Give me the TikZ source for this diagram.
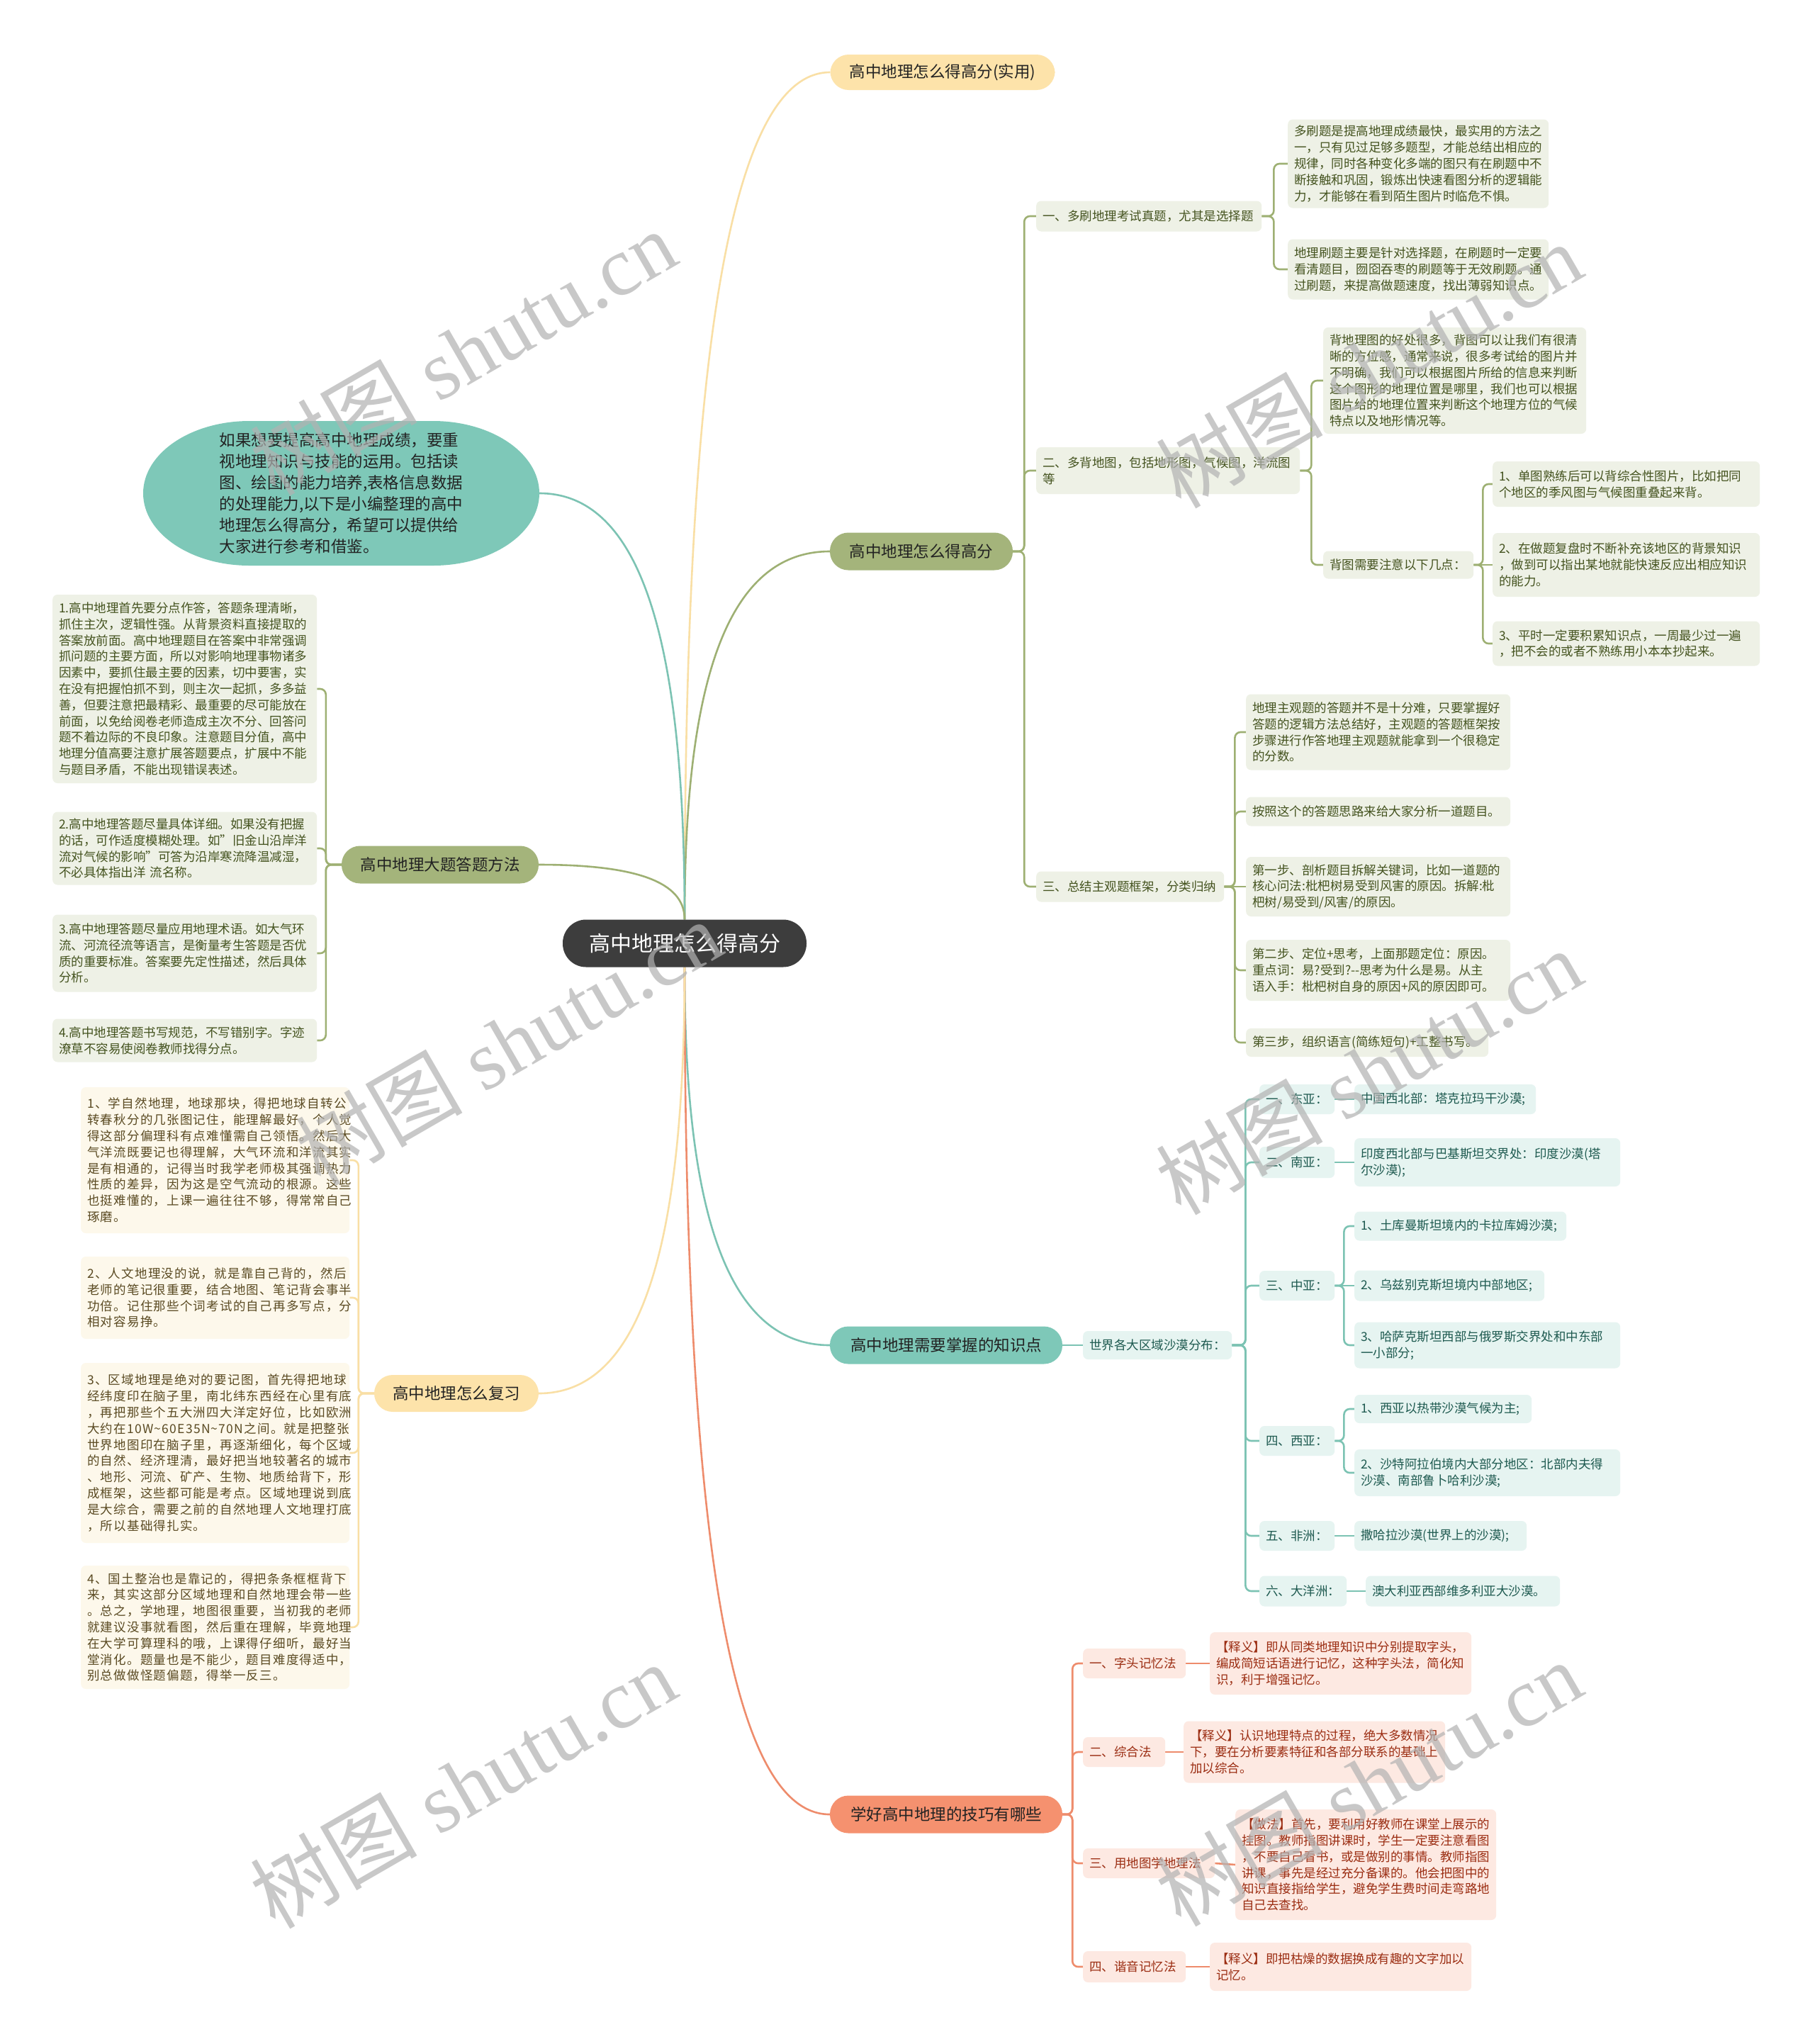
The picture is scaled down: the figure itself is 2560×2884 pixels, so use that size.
\documentclass[tikz,border=0pt]{standalone}
\usepackage{fontspec}
\setmainfont{Noto Sans CJK SC}
\newfontfamily\wmlatin{Liberation Serif}
\newfontfamily\spacedcjk[LetterSpace=7]{Noto Sans CJK SC}
\pgfdeclarelayer{bglayer}
\pgfdeclarelayer{linelayer}
\pgfdeclarelayer{wmlayer}
\pgfsetlayers{bglayer,linelayer,main,wmlayer}
\definecolor{rootc}{HTML}{3D3D3D}
\definecolor{gpill}{HTML}{A4B47B}
\definecolor{gline}{HTML}{9EB073}
\definecolor{gfill}{HTML}{EEF1E6}
\definecolor{gtext}{HTML}{44531F}
\definecolor{ypill}{HTML}{FDE3AA}
\definecolor{yline}{HTML}{F9DFA5}
\definecolor{yfill}{HTML}{FDF8EB}
\definecolor{ytext}{HTML}{5A4A22}
\definecolor{tpill}{HTML}{7EC8B8}
\definecolor{tline}{HTML}{7CC3B3}
\definecolor{tfill}{HTML}{E6F4F1}
\definecolor{ttext}{HTML}{1E5A50}
\definecolor{opill}{HTML}{F5916F}
\definecolor{oline}{HTML}{EE8C6C}
\definecolor{ofill}{HTML}{FDE9E2}
\definecolor{otext}{HTML}{9B2D12}
\definecolor{pilltext}{HTML}{222222}
\newcommand\mmbox[7]{\node[#2, text width=#5pt, minimum height=#6pt] (#1) at (#3,#4) {#7};}
\begin{document}
\begin{tikzpicture}[x=1pt,y=-1pt,
  conn/.style={line width=2.6pt, rounded corners=8pt},
  gconn/.style={conn, draw=gline},
  yconn/.style={conn, draw=yline},
  tconn/.style={conn, draw=tline},
  oconn/.style={conn, draw=oline},
  elbow/.style={to path={-- ++(#1,0) |- (\tikztotarget)}},
  rootbox/.style={fill=rootc, text=white, rounded corners=33pt, minimum width=344pt, minimum height=67pt, inner sep=0pt, font=\fontsize{30pt}{36pt}\selectfont},
  pillbox/.style={rounded corners=26pt, inner sep=0pt, text=pilltext, font=\fontsize{22.5pt}{27pt}\selectfont},
  leafbox/.style={rounded corners=7pt, anchor=west, align=left, inner xsep=9pt, inner ysep=3pt, font=\fontsize{17.5pt}{22.8pt}\selectfont},
  gleaf/.style={leafbox, fill=gfill, text=gtext},
  yleaf/.style={leafbox, fill=yfill, text=ytext, font=\spacedcjk\fontsize{17.5pt}{22.8pt}\selectfont},
  tleaf/.style={leafbox, fill=tfill, text=ttext},
  oleaf/.style={leafbox, fill=ofill, text=otext},
  wm/.style={rotate=30, text=black!30, text opacity=0.7, inner sep=0pt, font=\fontsize{118pt}{118pt}\selectfont}
]
\useasboundingbox (0,0) rectangle (2560,2884);
\begin{pgfonlayer}{bglayer}
\fill[white] (0,0) rectangle (2560,2884);
\end{pgfonlayer}

% root
\node[rootbox] (root) at (966,1331) {高中地理怎么得高分};

% main branches
\node[pillbox, fill=ypill, minimum width=317pt, minimum height=50pt] (Y1) at (1330,102) {高中地理怎么得高分(实用)};
\node[pillbox, fill=gpill, minimum width=258pt, minimum height=53pt] (G) at (1300,778) {高中地理怎么得高分};
\node[pillbox, fill=gpill, minimum width=278pt, minimum height=53pt] (L) at (621,1220) {高中地理大题答题方法};
\node[pillbox, fill=ypill, minimum width=232pt, minimum height=52pt] (R) at (644,1966) {高中地理怎么复习};
\node[pillbox, fill=tpill, minimum width=328pt, minimum height=53pt] (T) at (1335,1898) {高中地理需要掌握的知识点};
\node[pillbox, fill=opill, minimum width=328pt, minimum height=53pt] (O) at (1335,2560) {学好高中地理的技巧有哪些};

% intro bubble
\fill[tpill] (352,594) -- (611,594) arc[start angle=90, end angle=-90, x radius=150pt, y radius=102pt] -- (352,798) arc[start angle=270, end angle=90, x radius=150pt, y radius=102pt] -- cycle;
\node[align=left, text=pilltext, minimum width=559pt, minimum height=204pt, inner sep=0pt, font=\fontsize{22.5pt}{30pt}\selectfont] (E) at (481.5,696) {如果想要提高高中地理成绩，要重\\视地理知识与技能的运用。包括读\\图、绘图的能力培养,表格信息数据\\的处理能力,以下是小编整理的高中\\地理怎么得高分，希望可以提供给\\大家进行参考和借鉴。};

% green group
\mmbox{G1}{gleaf}{1462}{305}{300}{43}{一、多刷地理考试真题，尤其是选择题}
\mmbox{G1a}{gleaf}{1817}{231}{350}{125}{多刷题是提高地理成绩最快，最实用的方法之\\一，只有见过足够多题型，才能总结出相应的\\规律，同时各种变化多端的图只有在刷题中不\\断接触和巩固，锻炼出快速看图分析的逻辑能\\力，才能够在看到陌生图片时临危不惧。}
\mmbox{G1b}{gleaf}{1817}{380}{350}{85}{地理刷题主要是针对选择题，在刷题时一定要\\看清题目，囫囵吞枣的刷题等于无效刷题。通\\过刷题，来提高做题速度，找出薄弱知识点。}
\mmbox{G2}{gleaf}{1462}{664}{354}{66}{二、多背地图，包括地形图，气候图，洋流图\\等}
\mmbox{G2a}{gleaf}{1867}{537}{353}{150}{背地理图的好处很多，背图可以让我们有很清\\晰的方位感，通常来说，很多考试给的图片并\\不明确，我们可以根据图片所给的信息来判断\\这个图形的地理位置是哪里，我们也可以根据\\图片给的地理位置来判断这个地理方位的气候\\特点以及地形情况等。}
\mmbox{G2b}{gleaf}{1867}{797}{194}{39}{背图需要注意以下几点：}
\mmbox{G2ba}{gleaf}{2106}{683}{359}{64}{1、单图熟练后可以背综合性图片，比如把同\\个地区的季风图与气候图重叠起来背。}
\mmbox{G2bb}{gleaf}{2106}{797}{359}{90}{2、在做题复盘时不断补充该地区的背景知识\\，做到可以指出某地就能快速反应出相应知识\\的能力。}
\mmbox{G2bc}{gleaf}{2106}{908}{359}{63}{3、平时一定要积累知识点，一周最少过一遍\\，把不会的或者不熟练用小本本抄起来。}
\mmbox{G3}{gleaf}{1462}{1251}{247}{43}{三、总结主观题框架，分类归纳}
\mmbox{G3a}{gleaf}{1758}{1033}{355}{107}{地理主观题的答题并不是十分难，只要掌握好\\答题的逻辑方法总结好，主观题的答题框架按\\步骤进行作答地理主观题就能拿到一个很稳定\\的分数。}
\mmbox{G3b}{gleaf}{1758}{1145}{355}{41}{按照这个的答题思路来给大家分析一道题目。}
\mmbox{G3c}{gleaf}{1758}{1251}{355}{84}{第一步、剖析题目拆解关键词，比如一道题的\\核心问法:枇杷树易受到风害的原因。拆解:枇\\杷树/易受到/风害/的原因。}
\mmbox{G3d}{gleaf}{1758}{1369}{355}{86}{第二步、定位+思考，上面那题定位：原因。\\重点词：易?受到?-{}-思考为什么是易。从主\\语入手：枇杷树自身的原因+风的原因即可。}
\mmbox{G3e}{gleaf}{1758}{1471}{324}{40}{第三步，组织语言(简练短句)+工整书写。}

% left green group
\mmbox{L1}{gleaf}{74}{972}{355}{266}{1.高中地理首先要分点作答，答题条理清晰，\\抓住主次，逻辑性强。从背景资料直接提取的\\答案放前面。高中地理题目在答案中非常强调\\抓问题的主要方面，所以对影响地理事物诸多\\因素中，要抓住最主要的因素，切中要害，实\\在没有把握怕抓不到，则主次一起抓，多多益\\善，但要注意把最精彩、最重要的尽可能放在\\前面，以免给阅卷老师造成主次不分、回答问\\题不着边际的不良印象。注意题目分值，高中\\地理分值高要注意扩展答题要点，扩展中不能\\与题目矛盾，不能出现错误表述。}
\mmbox{L2}{gleaf}{74}{1197}{355}{103}{2.高中地理答题尽量具体详细。如果没有把握\\的话，可作适度模糊处理。如"旧金山沿岸洋\\流对气候的影响"可答为沿岸寒流降温减湿，\\不必具体指出洋 流名称。}
\mmbox{L3}{gleaf}{74}{1345}{355}{109}{3.高中地理答题尽量应用地理术语。如大气环\\流、河流径流等语言，是衡量考生答题是否优\\质的重要标准。答案要先定性描述，然后具体\\分析。}
\mmbox{L4}{gleaf}{74}{1468}{355}{61}{4.高中地理答题书写规范，不写错别字。字迹\\潦草不容易使阅卷教师找得分点。}

% left yellow group
\mmbox{R1}{yleaf}{114}{1637}{361}{206}{1、学自然地理，地球那块，得把地球自转公\\转春秋分的几张图记住，能理解最好，个人觉\\得这部分偏理科有点难懂需自己领悟。然后大\\气洋流既要记也得理解，大气环流和洋流其实\\是有相通的，记得当时我学老师极其强调热力\\性质的差异，因为这是空气流动的根源。这些\\也挺难懂的，上课一遍往往不够，得常常自己\\琢磨。}
\mmbox{R2}{yleaf}{114}{1831}{361}{116}{2、人文地理没的说，就是靠自己背的，然后\\老师的笔记很重要，结合地图、笔记背会事半\\功倍。记住那些个词考试的自己再多写点，分\\相对容易挣。}
\mmbox{R3}{yleaf}{114}{2050}{361}{254}{3、区域地理是绝对的要记图，首先得把地球\\经纬度印在脑子里，南北纬东西经在心里有底\\，再把那些个五大洲四大洋定好位，比如欧洲\\大约在10W\textasciitilde 60E35N\textasciitilde 70N之间。就是把整张\\世界地图印在脑子里，再逐渐细化，每个区域\\的自然、经济理清，最好把当地较著名的城市\\、地形、河流、矿产、生物、地质给背下，形\\成框架，这些都可能是考点。区域地理说到底\\是大综合，需要之前的自然地理人文地理打底\\，所以基础得扎实。}
\mmbox{R4}{yleaf}{114}{2296}{361}{174}{4、国土整治也是靠记的，得把条条框框背下\\来，其实这部分区域地理和自然地理会带一些\\。总之，学地理，地图很重要，当初我的老师\\就建议没事就看图，然后重在理解，毕竟地理\\在大学可算理科的哦，上课得仔细听，最好当\\堂消化。题量也是不能少，题目难度得适中，\\别总做做怪题偏题，得举一反三。}

% teal group
\mmbox{T0}{tleaf}{1528}{1898}{192}{40}{世界各大区域沙漠分布：}
\mmbox{T1}{tleaf}{1777}{1551}{88}{42}{一、东亚：}
\mmbox{T2}{tleaf}{1777}{1640}{88}{44}{二、南亚：}
\mmbox{T3}{tleaf}{1777}{1814}{88}{42}{三、中亚：}
\mmbox{T4}{tleaf}{1777}{2033}{88}{42}{四、西亚：}
\mmbox{T5}{tleaf}{1777}{2167}{88}{42}{五、非洲：}
\mmbox{T6}{tleaf}{1777}{2245}{105}{43}{六、大洋洲：}
\mmbox{T1a}{tleaf}{1911}{1551}{238}{42}{中国西北部：塔克拉玛干沙漠;}
\mmbox{T2a}{tleaf}{1911}{1640}{357}{68}{印度西北部与巴基斯坦交界处：印度沙漠(塔\\尔沙漠);}
\mmbox{T3a}{tleaf}{1911}{1730}{281}{41}{1、土库曼斯坦境内的卡拉库姆沙漠;}
\mmbox{T3b}{tleaf}{1911}{1814}{250}{43}{2、乌兹别克斯坦境内中部地区;}
\mmbox{T3c}{tleaf}{1911}{1898}{357}{65}{3、哈萨克斯坦西部与俄罗斯交界处和中东部\\一小部分;}
\mmbox{T4a}{tleaf}{1911}{1988}{232}{40}{1、西亚以热带沙漠气候为主;}
\mmbox{T4b}{tleaf}{1911}{2078}{357}{66}{2、沙特阿拉伯境内大部分地区：北部内夫得\\沙漠、南部鲁卜哈利沙漠;}
\mmbox{T5a}{tleaf}{1911}{2167}{225}{42}{撒哈拉沙漠(世界上的沙漠);}
\mmbox{T6a}{tleaf}{1927}{2245}{256}{43}{澳大利亚西部维多利亚大沙漠。}

% orange group
\mmbox{O1}{oleaf}{1528}{2347}{127}{42}{一、字头记忆法}
\mmbox{O2}{oleaf}{1528}{2472}{98}{42}{二、综合法}
\mmbox{O3}{oleaf}{1528}{2629}{168}{42}{三、用地图学地理法}
\mmbox{O4}{oleaf}{1528}{2775}{127}{44}{四、谐音记忆法}
\mmbox{O1a}{oleaf}{1707}{2347}{351}{88}{【释义】即从同类地理知识中分别提取字头，\\编成简短话语进行记忆，这种字头法，简化知\\识，利于增强记忆。}
\mmbox{O2a}{oleaf}{1670}{2472}{351}{87}{【释义】认识地理特点的过程，绝大多数情况\\下，要在分析要素特征和各部分联系的基础上\\加以综合。}
\mmbox{O3a}{oleaf}{1743}{2631}{350}{156}{【做法】首先，要利用好教师在课堂上展示的\\挂图。教师指图讲课时，学生一定要注意看图\\，不要自己看书，或是做别的事情。教师指图\\讲课，事先是经过充分备课的。他会把图中的\\知识直接指给学生，避免学生费时间走弯路地\\自己去查找。}
\mmbox{O4a}{oleaf}{1707}{2775}{351}{68}{【释义】即把枯燥的数据换成有趣的文字加以\\记忆。}

\begin{pgfonlayer}{linelayer}
% root branches
\draw[yconn] (root.north) .. controls (966,580) and (1017,102) .. (Y1.west);
\draw[gconn] (root.north) .. controls (966,986) and (1017,778) .. (G.west);
\draw[tconn] (root.north) .. controls (966,937) and (915,696) .. (E.east);
\draw[gconn] (root.north) .. controls (966,1251) and (915,1220) .. (L.east);
\draw[tconn] (root.south) .. controls (966,1685) and (1017,1898) .. (T.west);
\draw[oconn] (root.south) .. controls (966,2082) and (1017,2560) .. (O.west);
\draw[yconn] (root.south) .. controls (966,1726) and (915,1966) .. (R.east);
% green
\draw[gconn] (G.east) to[elbow=16] (G1.west);
\draw[gconn] (G.east) to[elbow=16] (G2.west);
\draw[gconn] (G.east) to[elbow=16] (G3.west);
\draw[gconn] (G1.east) to[elbow=17] (G1a.west);
\draw[gconn] (G1.east) to[elbow=17] (G1b.west);
\draw[gconn] (G2.east) to[elbow=16] (G2a.west);
\draw[gconn] (G2.east) to[elbow=16] (G2b.west);
\draw[gconn] (G2b.east) to[elbow=13] (G2ba.west);
\draw[gconn] (G2b.east) -- (G2bb.west);
\draw[gconn] (G2b.east) to[elbow=13] (G2bc.west);
\draw[gconn] (G3.east) to[elbow=15] (G3a.west);
\draw[gconn] (G3.east) to[elbow=15] (G3b.west);
\draw[gconn] (G3.east) -- (G3c.west);
\draw[gconn] (G3.east) to[elbow=15] (G3d.west);
\draw[gconn] (G3.east) to[elbow=15] (G3e.west);
% left green
\draw[gconn] (L.west) to[elbow=-22] (L1.east);
\draw[gconn] (L.west) to[elbow=-22] (L2.east);
\draw[gconn] (L.west) to[elbow=-22] (L3.east);
\draw[gconn] (L.west) to[elbow=-22] (L4.east);
% left yellow
\draw[yconn] (R.west) to[elbow=-22] (R1.east);
\draw[yconn] (R.west) to[elbow=-22] (R2.east);
\draw[yconn] (R.west) to[elbow=-22] (R3.east);
\draw[yconn] (R.west) to[elbow=-22] (R4.east);
% teal
\draw[tconn] (T.east) -- (T0.west);
\draw[tconn] (T0.east) to[elbow=19] (T1.west);
\draw[tconn] (T0.east) to[elbow=19] (T2.west);
\draw[tconn] (T0.east) to[elbow=19] (T3.west);
\draw[tconn] (T0.east) to[elbow=19] (T4.west);
\draw[tconn] (T0.east) to[elbow=19] (T5.west);
\draw[tconn] (T0.east) to[elbow=19] (T6.west);
\draw[tconn] (T1.east) -- (T1a.west);
\draw[tconn] (T2.east) -- (T2a.west);
\draw[tconn] (T3.east) to[elbow=13] (T3a.west);
\draw[tconn] (T3.east) -- (T3b.west);
\draw[tconn] (T3.east) to[elbow=13] (T3c.west);
\draw[tconn] (T4.east) to[elbow=13] (T4a.west);
\draw[tconn] (T4.east) to[elbow=13] (T4b.west);
\draw[tconn] (T5.east) -- (T5a.west);
\draw[tconn] (T6.east) -- (T6a.west);
% orange
\draw[oconn] (O.east) to[elbow=14] (O1.west);
\draw[oconn] (O.east) to[elbow=14] (O2.west);
\draw[oconn] (O.east) to[elbow=14] (O3.west);
\draw[oconn] (O.east) to[elbow=14] (O4.west);
\draw[oconn] (O1.east) -- (O1a.west);
\draw[oconn] (O2.east) -- (O2a.west);
\draw[oconn] (O3.east) -- (O3a.west);
\draw[oconn] (O4.east) -- (O4a.west);
\end{pgfonlayer}

\begin{pgfonlayer}{wmlayer}
\node[wm] (wm1) at (653,497) {树图\hspace{0.25em}{\wmlatin shutu.cn}};
\node[wm] (wm2) at (1931,515) {树图\hspace{0.25em}{\wmlatin shutu.cn}};
\node[wm] (wm3) at (717,1471) {树图\hspace{0.25em}{\wmlatin shutu.cn}};
\node[wm] (wm4) at (1931,1512) {树图\hspace{0.25em}{\wmlatin shutu.cn}};
\node[wm] (wm5) at (653,2519) {树图\hspace{0.25em}{\wmlatin shutu.cn}};
\node[wm] (wm6) at (1931,2516) {树图\hspace{0.25em}{\wmlatin shutu.cn}};
\end{pgfonlayer}
\end{tikzpicture}
\end{document}
